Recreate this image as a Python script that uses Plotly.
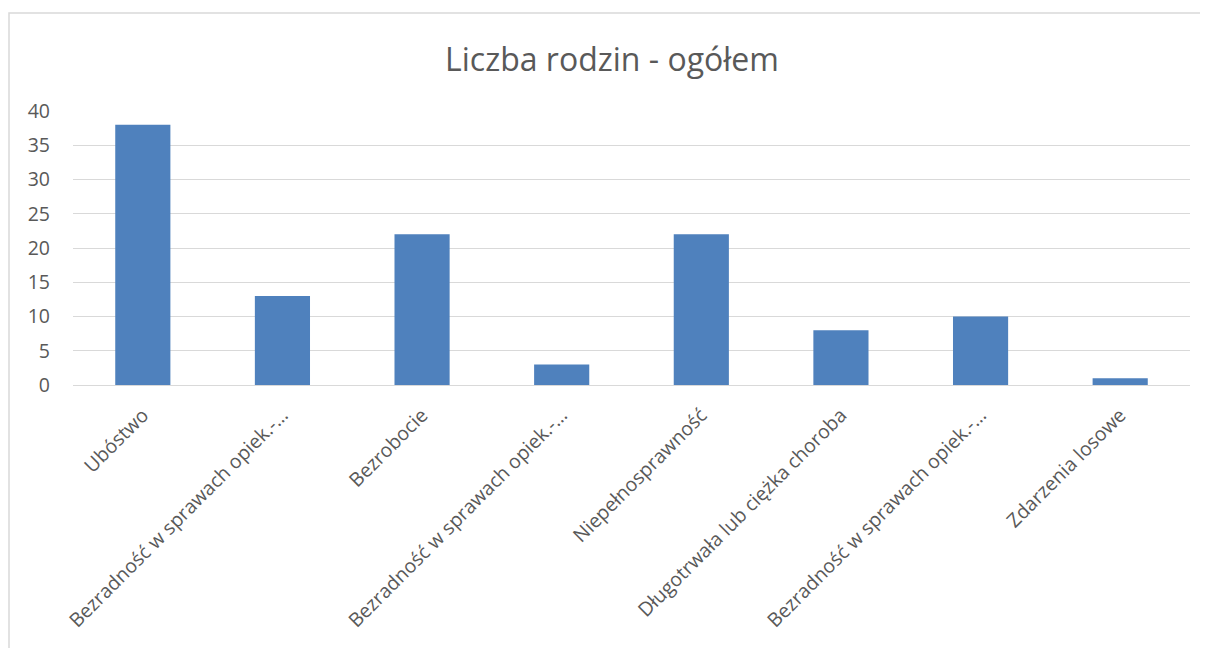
import plotly.graph_objects as go

categories = [
    "Ubóstwo",
    "Bezradność w sprawach opiek.-…",
    "Bezrobocie",
    "Bezradność w sprawach opiek.-…",
    "Niepełnosprawność",
    "Długotrwała lub ciężka choroba",
    "Bezradność w sprawach opiek.-…",
    "Zdarzenia losowe",
]
values = [38, 13, 22, 3, 22, 8, 10, 1]
y_ticks = [0, 5, 10, 15, 20, 25, 30, 35, 40]
title_text = "Liczba rodzin - ogółem"

x_idx = list(range(len(categories)))

fig = go.Figure(
    go.Bar(x=x_idx, y=values, marker=dict(color="#4F81BD", line=dict(width=0)), width=0.395)
)

# page has an 8px body margin, so the figure is 8px smaller and offset
W, H = 1200, 640
L, R, T, B = 65, 18, 103, 263
pw, ph = W - L - R, H - T - B

fig.update_layout(
    width=W, height=H,
    margin=dict(l=L, r=R, t=T, b=B),
    paper_bgcolor="white", plot_bgcolor="white",
    font=dict(family="Open Sans, Noto Sans, sans-serif", color="#595959", size=19),
    title=dict(text=title_text, x=(612 - 8) / W, xref="container", xanchor="center",
               y=1 - 52 / H, yanchor="middle", yref="container",
               font=dict(size=32, color="#595959")),
    showlegend=False,
    bargap=0.6,
)
fig.update_xaxes(
    tickmode="array", tickvals=x_idx, ticktext=categories,
    range=[-0.5, len(categories) - 0.5],
    tickangle=-45, showgrid=False, zeroline=False, showline=False,
    ticks="", ticklabelstandoff=14,
    tickfont=dict(size=19.5, color="#595959"),
)
fig.update_yaxes(
    range=[0, 40], tickmode="array", tickvals=y_ticks,
    showgrid=True, gridcolor="#D9D9D9", gridwidth=1,
    zeroline=True, zerolinecolor="#D9D9D9", zerolinewidth=1,
    showline=False, ticks="", ticklabelstandoff=22,
    tickfont=dict(size=19.5, color="#595959"),
)
# chart area border (decorative)
fig.add_shape(type="rect", xref="paper", yref="paper",
              x0=(1 - L) / pw, x1=(W + 5 - L) / pw,
              y0=(H - B - (H + 5)) / ph, y1=(H - B - 5) / ph,
              line=dict(color="#D9D9D9", width=1.5), fillcolor="rgba(0,0,0,0)", layer="below")

fig.write_html("out.html")
